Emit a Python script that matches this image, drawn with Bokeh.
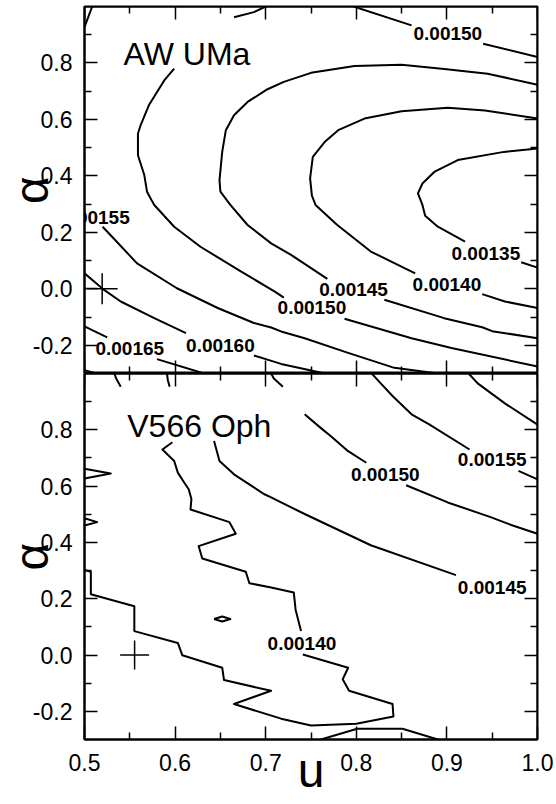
import numpy as np
from bokeh.plotting import figure
from bokeh.models import (Range1d, LinearAxis, FixedTicker, PrintfTickFormatter,
                          CustomJSTickFormatter, Label)
from bokeh.layouts import column
from bokeh.embed import file_html
from bokeh.resources import INLINE
from bokeh.core.properties import value

# ---------------- ticks ----------------
x_ticks = [0.5, 0.6, 0.7, 0.8, 0.9, 1.0]
x_minor = [0.55, 0.65, 0.75, 0.85, 0.95]
y_ticks = [-0.2, 0.0, 0.2, 0.4, 0.6, 0.8]
y_minor = [-0.1, 0.1, 0.3, 0.5, 0.7, 0.9]

# ---------------- top panel: AW UMa (None = gap where a label sits) ----------------
top_c135_u = [1.0, 0.963, 0.912, 0.886, 0.873, 0.868, 0.873, 0.876, 0.890, 0.920, None, 0.982, 1.0]
top_c135_a = [0.497, 0.485, 0.456, 0.414, 0.373, 0.338, 0.297, 0.259, 0.220, 0.167, None, 0.094, 0.075]

top_c140_u = [1.0, 0.942, 0.901, 0.850, 0.809, 0.780, 0.765, 0.752, 0.749, 0.751, 0.755, 0.779, 0.816, 0.865,
              None, 0.939, 0.964, 1.0]
top_c140_a = [0.603, 0.632, 0.641, 0.629, 0.603, 0.562, 0.520, 0.467, 0.391, 0.330, 0.297, 0.226, 0.132, 0.055,
              None, -0.019, -0.045, -0.068]

top_c145_u = [1.0, 0.945, 0.897, 0.850, 0.798, 0.750, 0.720, 0.702, 0.680, 0.665, 0.656, 0.652, 0.649, 0.650,
              0.661, 0.680, 0.706, 0.728, 0.768, None, 0.831, 0.897, 0.939, 0.950, 1.0]
top_c145_a = [0.723, 0.762, 0.779, 0.794, 0.789, 0.765, 0.733, 0.707, 0.662, 0.615, 0.562, 0.485, 0.385, 0.344,
              0.297, 0.226, 0.161, 0.120, 0.035, None, -0.039, -0.104, -0.136, -0.150, -0.175]

top_c150_u = [1.0, 0.905, 0.861, 0.787, None, 0.720, 0.711, 0.673, 0.628, 0.599, 0.577, 0.575, 0.569, 0.566,
              0.559, 0.559, 0.562, 0.571, 0.588, 0.599, None, 0.665, 0.687, 0.700,
              None, 0.797, 0.861, None, 0.940, 1.0]
top_c150_a = [-0.275, -0.210, -0.175, -0.106, None, -0.031, -0.012, 0.061, 0.149, 0.220, 0.297, 0.308, 0.344, 0.403,
              0.473, 0.550, 0.580, 0.650, 0.738, 0.780, None, 0.962, 0.980, 1.0,
              None, 1.0, 0.933, None, 0.868, 0.821]

top_c155_u = [0.520, 0.532, 0.558, 0.602, 0.647, 0.687, 0.706, 0.717, 0.743, 0.791, 0.842, 0.890, None, 0.5, 0.5085]
top_c155_a = [0.220, 0.179, 0.090, 0.002, -0.068, -0.121, -0.137, -0.151, -0.175, -0.227, -0.280, -0.30, None, 0.927, 1.0]

top_c160_u = [0.5, 0.520, 0.540, 0.577, 0.612, None, 0.687, 0.717, 0.754, 0.765]
top_c160_a = [0.055, 0.0, -0.045, -0.104, -0.157, None, -0.236, -0.266, -0.292, -0.30]

top_c165_u = [0.5, 0.525, None, 0.580, 0.632]
top_c165_a = [-0.133, -0.172, None, -0.249, -0.30]

top_c170_u = [0.5, 0.513]
top_c170_a = [-0.288, -0.30]

top_lab_u = [0.943, 0.900, 0.797, 0.751, 0.901, 0.512, 0.650, 0.550]
top_lab_a = [0.126, 0.015, -0.004, -0.066, 0.905, 0.254, -0.201, -0.213]
top_lab_txt = ["0.00135", "0.00140", "0.00145", "0.00150", "0.00150", "0.00155", "0.00160", "0.00165"]

top_cross_u = [0.5195]
top_cross_a = [0.0]

# ---------------- bottom panel: V566 Oph ----------------
bot_c140_u = [0.533, 0.535, 0.540, None, 0.597, 0.586, 0.599, 0.603, 0.610, 0.615, 0.618, 0.617, 0.660, 0.667,
              0.626, 0.630, 0.678, 0.682, 0.706, 0.731, 0.733, 0.739, None, 0.741, 0.791, 0.785, 0.792, 0.840,
              0.841, 0.800, 0.750, 0.717, 0.665, 0.706, 0.654, 0.652, 0.608, 0.603, 0.555, 0.555, 0.507, 0.507, 0.5]
bot_c140_a = [1.0, 0.982, 0.953, None, 0.756, 0.730, 0.689, 0.648, 0.613, 0.589, 0.554, 0.517, 0.472, 0.431,
              0.387, 0.343, 0.296, 0.255, 0.240, 0.222, 0.161, 0.085, None, 0.002, -0.045, -0.086, -0.127, -0.174,
              -0.218, -0.244, -0.250, -0.226, -0.174, -0.127, -0.089, -0.045, -0.001, 0.043, 0.085, 0.173, 0.216,
              0.296, 0.302]

bot_c140b_u = [0.643, 0.652, 0.661, 0.652, 0.643]
bot_c140b_a = [0.128, 0.137, 0.128, 0.119, 0.128]

bot_c140c_u = [0.5, 0.529, 0.5]
bot_c140c_a = [0.662, 0.645, 0.627]

bot_c140d_u = [0.5, 0.514, 0.5]
bot_c140d_a = [0.486, 0.472, 0.460]

bot_c135_u = [0.761, 0.801, 0.851, 0.890]
bot_c135_a = [-0.30, -0.262, -0.262, -0.30]

bot_c145_u = [0.591, 0.592, 0.594, None, 0.643, 0.649, 0.665, 0.698, 0.706, 0.717, 0.743, 0.816, 0.910]
bot_c145_a = [1.0, 0.976, 0.953, None, 0.760, 0.689, 0.642, 0.572, 0.560, 0.542, 0.501, 0.390, 0.284]

bot_c150_u = [0.706, 0.709, 0.719, None, 0.743, 0.761, 0.772, 0.791, 0.811, None, 0.855, 0.901, 0.949, 0.971, 1.0]
bot_c150_a = [1.0, 0.982, 0.953, None, 0.855, 0.806, 0.777, 0.724, 0.683, None, 0.603, 0.542, 0.489, 0.462, 0.431]

bot_c155_u = [0.817, 0.827, 0.840, 0.861, 0.880, 0.925, None, 0.979, 1.0]
bot_c155_a = [1.0, 0.965, 0.920, 0.855, 0.820, 0.730, None, 0.654, 0.624]

bot_c160_u = [0.924, 0.934, 0.964, 1.0]
bot_c160_a = [1.0, 0.965, 0.894, 0.818]

bot_lab_u = [0.740, 0.950, 0.832, 0.950]
bot_lab_a = [0.040, 0.240, 0.640, 0.695]
bot_lab_txt = ["0.00140", "0.00145", "0.00150", "0.00155"]

bot_cross_u = [0.5553]
bot_cross_a = [0.0]

FONT = "Liberation Sans"


def make_axis(dim, fixed=None, labels=False, title=None):
    if dim == "x":
        ticker = FixedTicker(ticks=x_ticks, minor_ticks=x_minor)
    else:
        ticker = FixedTicker(ticks=y_ticks, minor_ticks=y_minor)
    ax = LinearAxis(ticker=ticker, fixed_location=fixed)
    ax.major_tick_in = 13
    ax.major_tick_out = 0
    ax.minor_tick_in = 7
    ax.minor_tick_out = 0
    ax.axis_line_width = 2
    ax.axis_line_color = "black"
    ax.major_tick_line_width = 1.5
    ax.minor_tick_line_width = 1.5
    ax.major_tick_line_color = "black"
    ax.minor_tick_line_color = "black"
    if labels:
        ax.formatter = PrintfTickFormatter(format="%.1f")
        ax.major_label_text_font = FONT
        ax.major_label_text_font_size = "23px"
        ax.major_label_text_color = "black"
        ax.major_label_standoff = 12 if dim == "y" else 14
    else:
        ax.formatter = CustomJSTickFormatter(code="return ''")
        ax.major_label_standoff = 0
    if title is not None:
        ax.axis_label = title
        ax.axis_label_text_font = FONT
        ax.axis_label_text_font_size = "48px"
        ax.axis_label_text_font_style = "normal"
        ax.axis_label_text_color = "black"
        ax.axis_label_standoff = -28 if dim == "y" else -30
    return ax


def make_fig(height, top, bottom, with_xlabels):
    p = figure(width=556, height=height, x_range=Range1d(0.5, 1.0), y_range=Range1d(-0.3, 1.0),
               output_backend="svg", toolbar_location=None,
               x_axis_location=None, y_axis_location=None,
               min_border_left=84, min_border_right=19, min_border_top=top, min_border_bottom=bottom)
    p.outline_line_color = "black"
    p.outline_line_width = 2
    p.background_fill_color = "white"
    p.border_fill_color = "white"
    p.grid.visible = False
    p.add_layout(make_axis("y", labels=True, title="α"), "left")
    p.add_layout(make_axis("y", fixed=1.0), "right")
    p.add_layout(make_axis("x", fixed=1.0), "above")
    if with_xlabels:
        p.add_layout(make_axis("x", labels=True, title="u"), "below")
    else:
        p.add_layout(make_axis("x", fixed=-0.3), "below")
    return p


def arr(v):
    return np.array(v, dtype=float)


def draw_lines(p, pairs):
    for u, a in pairs:
        p.line(arr(u), arr(a), line_color="black", line_width=2, line_join="round")


def draw_labels(p, u, a, txt):
    p.text(x=u, y=a, text=txt, text_font=value(FONT), text_font_style="bold",
           text_font_size=value("19px"), text_align="center", text_baseline="middle",
           text_color="black")


# ---------- top figure ----------
p1 = make_fig(373, 6, 0, False)
draw_lines(p1, [(top_c135_u, top_c135_a), (top_c140_u, top_c140_a), (top_c145_u, top_c145_a),
                (top_c150_u, top_c150_a), (top_c155_u, top_c155_a), (top_c160_u, top_c160_a),
                (top_c165_u, top_c165_a), (top_c170_u, top_c170_a)])
draw_labels(p1, top_lab_u, top_lab_a, top_lab_txt)
p1.scatter(top_cross_u, top_cross_a, marker="cross", size=31, line_color="black", line_width=1.5)
p1.add_layout(Label(x=0.5431, y=0.8314, text="AW UMa", text_font=FONT, text_font_size="32px",
                    text_align="left", text_baseline="alphabetic", text_color="black"))

# ---------- bottom figure ----------
p2 = make_fig(431, 0, 65, True)
draw_lines(p2, [(bot_c140_u, bot_c140_a), (bot_c140b_u, bot_c140b_a), (bot_c140c_u, bot_c140c_a),
                (bot_c140d_u, bot_c140d_a), (bot_c135_u, bot_c135_a), (bot_c145_u, bot_c145_a),
                (bot_c150_u, bot_c150_a), (bot_c155_u, bot_c155_a), (bot_c160_u, bot_c160_a)])
draw_labels(p2, bot_lab_u, bot_lab_a, bot_lab_txt)
p2.scatter(bot_cross_u, bot_cross_a, marker="cross", size=29, line_color="black", line_width=1.5)
p2.add_layout(Label(x=0.5472, y=0.815, text="V566 Oph", text_font=FONT, text_font_size="32px",
                    text_align="left", text_baseline="alphabetic", text_color="black"))

layout = column(p1, p2, spacing=0)
open("out.html", "w").write(file_html(layout, INLINE))
